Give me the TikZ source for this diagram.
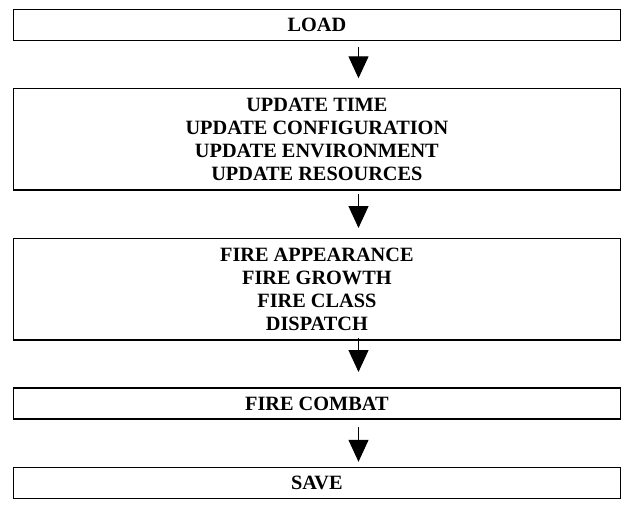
\documentclass[tikz,border=0pt]{standalone}
\usepackage{fontspec}
\setmainfont{Liberation Serif}
\usetikzlibrary{arrows.meta,calc}
\begin{document}
\begin{tikzpicture}[x=1pt,y=-1pt,
  stage/.style={draw,line width=1.55pt,minimum width=607pt,inner sep=0pt,
    font=\bfseries\fontsize{20.3}{22.9}\selectfont,align=center,anchor=north west},
  flow/.style={line width=1.2pt,-{Triangle[width=20pt,length=22pt]}}]
\useasboundingbox (0,0) rectangle (632,511);
\coordinate (ax) at (358.5,0);
\node[stage,minimum height=31pt] (load) at (12.6,8.7) {LOAD};
\node[stage,minimum height=101.5pt] (upd) at (12.6,87.9) {UPDATE TIME\\UPDATE CONFIGURATION\\UPDATE ENVIRONMENT\\UPDATE RESOURCES};
\node[stage,minimum height=101.5pt] (fire) at (12.6,237.7) {FIRE APPEARANCE\\FIRE GROWTH\\FIRE CLASS\\DISPATCH};
\node[stage,minimum height=31pt] (combat) at (12.6,387.4) {FIRE COMBAT};
\node[stage,minimum height=31pt] (save) at (12.6,466.7) {SAVE};
\draw[flow] ($(load.south -| ax)+(0,5.8)$) -- ($(upd.north -| ax)+(0,-9.6)$);
\draw[flow] ($(upd.south -| ax)+(0,3)$) -- ($(fire.north -| ax)+(0,-9.7)$);
\draw[flow] ($(fire.south -| ax)+(0,-3)$) -- ($(combat.north -| ax)+(0,-15.4)$);
\draw[flow] ($(combat.south -| ax)+(0,6.6)$) -- ($(save.north -| ax)+(0,-4.9)$);
\end{tikzpicture}
\end{document}
